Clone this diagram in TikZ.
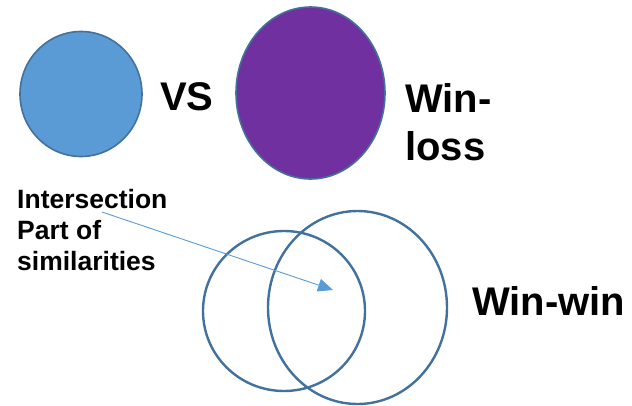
\documentclass[tikz,border=0pt]{standalone}
\usepackage{fontspec}
\setmainfont{Liberation Sans}
\usetikzlibrary{shapes.geometric,arrows.meta}
\definecolor{lblue}{HTML}{5B9BD5}
\definecolor{dblue}{HTML}{41719C}
\definecolor{purp}{HTML}{7030A0}
\begin{document}
\begin{tikzpicture}[x=1pt,y=-1pt,
  blob/.style={ellipse,draw=dblue,line width=1.6pt,inner sep=0pt},
  ring/.style={ellipse,draw=dblue,line width=2.4pt,inner sep=0pt},
  bigtext/.style={font=\bfseries\fontsize{40}{48}\selectfont,inner sep=0pt,align=left},
  smalltext/.style={font=\bfseries\fontsize{26.5}{31}\selectfont,inner sep=0pt,align=left},
  pointer/.style={draw=lblue,line width=0.9pt,-{Triangle[length=15pt,width=13pt]}}]
\useasboundingbox (0,0) rectangle (632,405);
\node[blob,fill=lblue,minimum width=122pt,minimum height=125pt] (vsblob) at (81,94) {};
\node[blob,fill=purp,minimum width=149pt,minimum height=172pt] (wlblob) at (310.5,93) {};
\node[bigtext,anchor=base west] (vs) at (160,110) {VS};
\node[bigtext,anchor=north west] (winloss) at (405,83) {Win-\\loss};
\node[ring,minimum width=162pt,minimum height=160pt] (left) at (284,311) {};
\node[ring,minimum width=179pt,minimum height=193pt] (right) at (357.5,307.5) {};
\node[bigtext,anchor=base west] (winwin) at (472,315) {Win-win};
\node[smalltext,anchor=north west] (inter) at (17,189) {Intersection\\Part of\\similarities};
\coordinate (from) at (102,212);
\coordinate (tip) at (333,290);
\draw[pointer] (from) -- (tip);
\end{tikzpicture}
\end{document}
